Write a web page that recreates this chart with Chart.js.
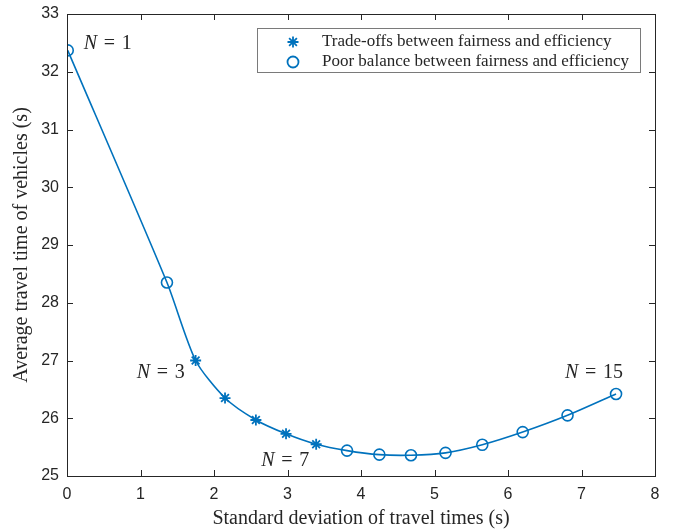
<!DOCTYPE html>
<html>
<head>
<meta charset="utf-8">
<script src="https://cdn.jsdelivr.net/npm/chart.js@4.4.0/dist/chart.umd.min.js"></script>
<style>
    html, body { margin: 0; padding: 0; background: #ffffff; }
    canvas { display: block; }
</style>
</head>
<body>
<canvas id="grafico" width="673" height="532"></canvas>
<script>
const desvioPadrao = [0.01, 1.36, 1.75, 2.15, 2.57, 2.98, 3.39, 3.81, 4.25, 4.68, 5.15, 5.65, 6.20, 6.81, 7.47];
const tempoMedio = [32.37, 28.35, 27.00, 26.35, 25.97, 25.73, 25.55, 25.44, 25.37, 25.36, 25.40, 25.54, 25.76, 26.05, 26.42];
const tipoMarcador = ['o', 'o', '*', '*', '*', '*', '*', 'o', 'o', 'o', 'o', 'o', 'o', 'o', 'o'];
const rotulosLegenda = ['Trade-offs between fairness and efficiency', 'Poor balance between fairness and efficiency'];
const indicesN = [0, 2, 6, 14];
const textosN = ['1', '3', '7', '15'];
const ticksX = [0, 1, 2, 3, 4, 5, 6, 7, 8];
const ticksY = [25, 26, 27, 28, 29, 30, 31, 32, 33];

const azul = '#0072BD';
const corEixo = '#262626';
const serif = '"Liberation Serif", "DejaVu Serif", serif';

const pontos = desvioPadrao.map((x, i) => ({ x: x, y: tempoMedio[i] }));
const pontosEstrela = pontos.filter((p, i) => tipoMarcador[i] === '*');
const pontosCirculo = pontos.filter((p, i) => tipoMarcador[i] === 'o');

// deslocamentos dos rotulos N = ... em relacao ao ponto
const deslocN = [
    { dx: 16, dy: -7, align: 'left' },
    { dx: -11, dy: 12, align: 'right' },
    { dx: -31, dy: 17, align: 'center' },
    { dx: -22, dy: -21, align: 'center' }
];

const caixaEixos = {
    id: 'caixaEixos',
    afterDraw(chart) {
        const ctx = chart.ctx;
        const a = chart.chartArea;
        const sx = chart.scales.x;
        const sy = chart.scales.y;
        ctx.save();
        ctx.strokeStyle = corEixo;
        ctx.lineWidth = 1;
        ctx.strokeRect(Math.round(a.left) + 0.5, Math.round(a.top) + 0.5, Math.round(a.right - a.left), Math.round(a.bottom - a.top));
        const tam = 6;
        ctx.beginPath();
        ticksX.forEach(v => {
            const px = Math.round(sx.getPixelForValue(v)) + 0.5;
            ctx.moveTo(px, a.bottom); ctx.lineTo(px, a.bottom - tam);
            ctx.moveTo(px, a.top); ctx.lineTo(px, a.top + tam);
        });
        ticksY.forEach(v => {
            const py = Math.round(sy.getPixelForValue(v)) + 0.5;
            ctx.moveTo(a.left, py); ctx.lineTo(a.left + tam, py);
            ctx.moveTo(a.right, py); ctx.lineTo(a.right - tam, py);
        });
        ctx.stroke();

        // rotulos N = k
        ctx.fillStyle = corEixo;
        ctx.textBaseline = 'middle';
        indicesN.forEach((idx, k) => {
            const d = deslocN[k];
            const px = sx.getPixelForValue(desvioPadrao[idx]) + d.dx;
            const py = sy.getPixelForValue(tempoMedio[idx]) + d.dy;
            ctx.font = 'italic 20px ' + serif;
            const wN = ctx.measureText('N').width;
            ctx.font = '20px ' + serif;
            const resto = '\u2004=\u2004' + textosN[k];
            const wR = ctx.measureText(resto).width;
            const total = wN + wR;
            let x0 = px;
            if (d.align === 'right') x0 = px - total;
            if (d.align === 'center') x0 = px - total / 2;
            ctx.textAlign = 'left';
            ctx.font = 'italic 20px ' + serif;
            ctx.fillText('N', x0, py);
            ctx.font = '20px ' + serif;
            ctx.fillText(resto, x0 + wN, py);
        });

        // legenda
        const lx = a.right - 398, ly = a.top + 14, lw = 383, lh = 44;
        ctx.fillStyle = '#ffffff';
        ctx.fillRect(lx, ly, lw, lh);
        ctx.strokeStyle = '#7a7a7a';
        ctx.lineWidth = 1;
        ctx.strokeRect(Math.round(lx) + 0.5, Math.round(ly) + 0.5, lw, lh);
        const estilos = ['star', 'circle'];
        rotulosLegenda.forEach((txt, i) => {
            const my = ly + 14 + i * 20;
            ctx.strokeStyle = azul;
            ctx.fillStyle = 'rgba(0,0,0,0)';
            ctx.lineWidth = 1.8;
            Chart.helpers.drawPoint(ctx, { pointStyle: estilos[i], radius: 5.5, borderWidth: 1.8, rotation: 0 }, lx + 36, my);
            ctx.fillStyle = corEixo;
            ctx.font = '17px ' + serif;
            ctx.textAlign = 'left';
            ctx.textBaseline = 'middle';
            ctx.fillText(txt, lx + 65, my);
        });
        ctx.restore();
    }
};

const fonteTicks = { family: '"Liberation Sans", Arial, sans-serif', size: 16 };

new Chart(document.getElementById('grafico'), {
    type: 'scatter',
    data: {
        datasets: [
            {
                label: 'curva',
                data: pontos,
                showLine: true,
                borderColor: azul,
                borderWidth: 1.6,
                pointRadius: 0,
                tension: 0.25,
                order: 3
            },
            {
                label: rotulosLegenda[0],
                data: pontosEstrela,
                pointStyle: 'star',
                pointRadius: 5.5,
                borderColor: azul,
                backgroundColor: azul,
                pointBorderWidth: 1.8,
                order: 1
            },
            {
                label: rotulosLegenda[1],
                data: pontosCirculo,
                pointStyle: 'circle',
                pointRadius: 5.5,
                borderColor: azul,
                backgroundColor: 'rgba(0,0,0,0)',
                pointBorderWidth: 1.6,
                order: 2
            }
        ]
    },
    options: {
        responsive: false,
        animation: false,
        layout: { padding: { top: 14, right: 18, left: 0, bottom: 0 } },
        plugins: {
            legend: { display: false },
            tooltip: { enabled: false }
        },
        scales: {
            x: {
                type: 'linear',
                min: 0,
                max: 8,
                afterBuildTicks: s => { s.ticks = ticksX.map(v => ({ value: v })); },
                afterFit: s => { s.height = 56; s.paddingLeft = 0; s.paddingRight = 0; },
                ticks: { font: fonteTicks, color: corEixo, padding: 9 },
                grid: { display: false, drawTicks: false },
                border: { display: false },
                title: {
                    display: true,
                    text: 'Standard deviation of travel times (s)',
                    font: { family: serif, size: 20 },
                    color: corEixo,
                    padding: { top: 0, bottom: 1 }
                }
            },
            y: {
                type: 'linear',
                min: 25,
                max: 33,
                afterBuildTicks: s => { s.ticks = ticksY.map(v => ({ value: v })); },
                afterFit: s => { s.width = 67; s.paddingTop = 0; s.paddingBottom = 0; },
                ticks: { font: fonteTicks, color: corEixo, padding: 8 },
                grid: { display: false, drawTicks: false },
                border: { display: false },
                title: {
                    display: true,
                    text: 'Average travel time of vehicles (s)',
                    font: { family: serif, size: 20 },
                    color: corEixo,
                    padding: { top: 10, bottom: 0 }
                }
            }
        }
    },
    plugins: [caixaEixos]
});
</script>
</body>
</html>
